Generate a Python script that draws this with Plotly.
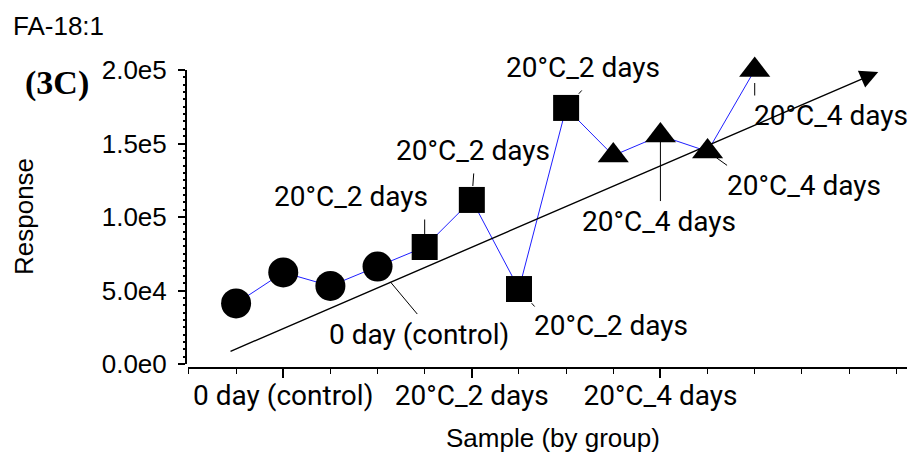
import plotly.graph_objects as go

# ---------------- data ----------------
sample_index = list(range(12))
response = [41200, 62300, 53100, 66300, 79600, 111600, 51000, 174200, 141800, 155400, 144600, 200000]
groups = ['0 day (control)'] * 4 + ['20°C_2 days'] * 4 + ['20°C_4 days'] * 4
group_names = ['0 day (control)', '20°C_2 days', '20°C_4 days']
group_tick_pos = [1, 5, 9]
y_tick_vals = [0, 50000, 100000, 150000, 200000]
y_tick_text = ['0.0e0', '5.0e4', '1.0e5', '1.5e5', '2.0e5']
trend_x = [-0.15, 13.62]
trend_y = [8200, 198700]
labeled_points = [3, 4, 5, 6, 7, 9, 10, 11]

# ---------------- styles ----------------
symbol_of = {'0 day (control)': 'circle', '20°C_2 days': 'square', '20°C_4 days': 'triangle-up'}
size_of = {'0 day (control)': 30, '20°C_2 days': 26, '20°C_4 days': 27}
# leader line (ax, ay, standoff) and text offset (dx, dy) in pixels, per labeled point
leader = {3: (41, 49, 20), 4: (0, -29, 13), 5: (2, -28, 14), 6: (17, 19, 19),
          7: (17, -19, 19), 9: (0, 67, 5), 10: (21, 15, 11), 11: (0, 27, 13)}
text_off = {3: (41, 68), 4: (-74, -50), 5: (1, -49), 6: (92, 36),
            7: (17, -40), 9: (-1, 86), 10: (96, 34), 11: (76, 45)}

LABEL_FONT = dict(family='Roboto', size=28, color='black')
AX_FONT = dict(family='Liberation Sans, Arial', size=26, color='black')

fig = go.Figure()
fig.add_trace(go.Scatter(
    x=sample_index, y=response, mode='lines+markers',
    line=dict(color='#1f1fff', width=1),
    marker=dict(color='black', opacity=1,
                symbol=[symbol_of[g] for g in groups],
                size=[size_of[g] for g in groups],
                line=dict(width=0)),
    cliponaxis=False,
    showlegend=False, hoverinfo='skip'))

annotations = []
# trend arrow
annotations.append(dict(x=trend_x[1], y=trend_y[1], ax=trend_x[0], ay=trend_y[0],
                        xref='x', yref='y', axref='x', ayref='y', text='',
                        showarrow=True, arrowhead=2, arrowsize=2.6, arrowwidth=1.4,
                        arrowcolor='black'))
for i in labeled_points:
    ax, ay, so = leader[i]
    annotations.append(dict(x=sample_index[i], y=response[i], xref='x', yref='y', text='',
                            showarrow=True, arrowhead=0, ax=ax, ay=ay, standoff=so,
                            arrowwidth=1, arrowcolor='black'))
    dx, dy = text_off[i]
    annotations.append(dict(x=sample_index[i], y=response[i], xref='x', yref='y',
                            text=groups[i], showarrow=False, xshift=dx, yshift=-dy,
                            xanchor='center', yanchor='middle', font=LABEL_FONT))

# titles as paper annotations
L, T, W, H = 186, 70, 721, 298
def px(xp):
    return (xp - L) / W
def py(yp):
    return (T + H - yp) / H

annotations.append(dict(x=px(24), y=py(217), xref='paper', yref='paper', text='Response',
                        textangle=-90, showarrow=False, xanchor='center', yanchor='middle',
                        font=AX_FONT))
annotations.append(dict(x=px(553), y=py(438), xref='paper', yref='paper',
                        text='Sample (by group)', showarrow=False, xanchor='center',
                        yanchor='middle', font=AX_FONT))
annotations.append(dict(x=px(11), y=py(26), xref='paper', yref='paper', text='FA-18:1',
                        showarrow=False, xanchor='left', yanchor='middle', font=AX_FONT))
annotations.append(dict(x=px(57), y=py(83), xref='paper', yref='paper', text='<b>(3C)</b>',
                        showarrow=False, xanchor='center', yanchor='middle',
                        font=dict(family='Liberation Serif, Times New Roman', size=34,
                                  color='black')))

fig.update_layout(
    width=909, height=456,
    margin=dict(l=L, r=909 - L - W, t=T, b=456 - T - H, pad=0),
    paper_bgcolor='white', plot_bgcolor='white',
    annotations=annotations,
    xaxis=dict(domain=[2 / W, 1], anchor='free', position=0,
               range=[-1.02, 14.23], showgrid=False, zeroline=False,
               showline=True, linecolor='black', linewidth=2,
               tickmode='array', tickvals=group_tick_pos, ticktext=group_names,
               ticks='outside', ticklen=9, tickwidth=1.5, tickcolor='black',
               tickfont=LABEL_FONT, ticklabelstandoff=-7,
               minor=dict(tickmode='linear', tick0=0, dtick=1, ticks='outside',
                          ticklen=5, tickwidth=1, tickcolor='black')),
    yaxis=dict(domain=[4 / H, 1], anchor='free', position=0,
               range=[0, 200000], showgrid=False, zeroline=False,
               showline=True, linecolor='black', linewidth=2,
               tickmode='array', tickvals=y_tick_vals, ticktext=y_tick_text,
               ticks='outside', ticklen=7, tickwidth=1.5, tickcolor='black',
               tickfont=AX_FONT, ticklabelstandoff=6,
               minor=dict(tickmode='linear', tick0=0, dtick=5000, ticks='outside',
                          ticklen=2, tickwidth=1.5, tickcolor='black')),
)

fig.write_html('out.html', config={'displayModeBar': False},
               post_script="document.body.style.margin='0';")
